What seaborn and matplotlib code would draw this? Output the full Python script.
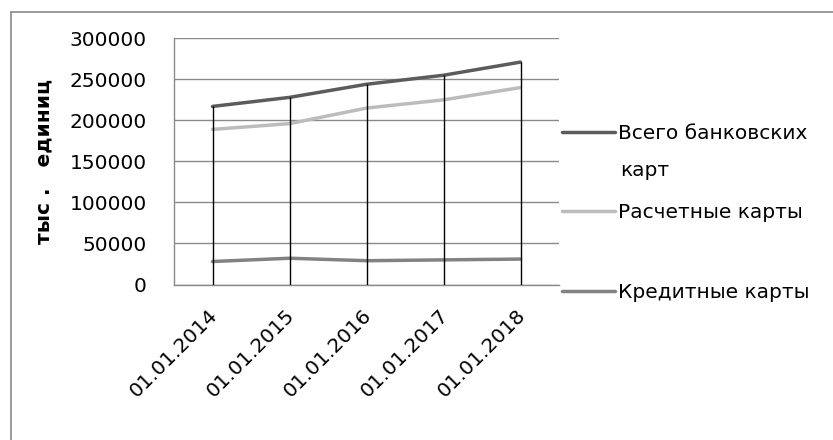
import numpy as np
import pandas as pd
import matplotlib
matplotlib.use("Agg")
import matplotlib.pyplot as plt
import matplotlib.transforms as mtransforms
from matplotlib.lines import Line2D
import seaborn as sns

# Bank cards in circulation, thousand units
dates = ["01.01.2014", "01.01.2015", "01.01.2016", "01.01.2017", "01.01.2018"]
total_cards = [217000, 228000, 244000, 255000, 271000]
debit_cards = [189000, 196000, 215000, 225000, 240000]
credit_cards = [28000, 32000, 29000, 30000, 31000]
series_names = ["Всего банковских карт", "Расчетные карты", "Кредитные карты"]
y_ticks = [0, 50000, 100000, 150000, 200000, 250000, 300000]
y_label = "тыс .   единиц"

colors = ["#5c5c5c", "#bcbcbc", "#828282"]
grid_gray = "#8a8a8a"

sns.set_theme(style="white")
plt.rcParams["font.family"] = ["DejaVu Sans"]
plt.rcParams["text.color"] = "black"
plt.rcParams["axes.labelcolor"] = "black"
plt.rcParams["xtick.color"] = "black"
plt.rcParams["ytick.color"] = "black"

pos = np.arange(len(dates))
df = pd.DataFrame({
    "pos": np.tile(pos, 3),
    "value": total_cards + debit_cards + credit_cards,
    "series": np.repeat(series_names, len(dates)),
})

fig = plt.figure(figsize=(8.33, 4.40), dpi=100)
ax = fig.add_axes([174 / 833, 1 - 284.5 / 440, (559 - 174) / 833, (284.5 - 38.3) / 440])

sns.lineplot(data=df, x="pos", y="value", hue="series", hue_order=series_names,
             palette=colors, linewidth=2.5, legend=False, ax=ax, zorder=3)

# drop lines from the highest series down to the axis
tops = [max(v) for v in zip(total_cards, debit_cards, credit_cards)]
ax.vlines(pos, 0, tops, colors="black", linewidth=1.0, zorder=4)

ax.set_xlim(-0.5, len(dates) - 0.5)
ax.set_ylim(0, 300000)
ax.set_yticks(y_ticks)
ax.set_yticklabels([str(t) for t in y_ticks], fontsize=14.5)
ax.yaxis.grid(True, color=grid_gray, linewidth=1.0)
ax.xaxis.grid(False)
ax.set_axisbelow(True)
for side in ["top", "right"]:
    ax.spines[side].set_visible(False)
for side in ["left", "bottom"]:
    ax.spines[side].set_color(grid_gray)
    ax.spines[side].set_linewidth(1.0)
ax.tick_params(axis="y", length=6.5, width=1.0, color=grid_gray, labelcolor="black",
               direction="out", pad=13)
ax.tick_params(axis="x", length=0, pad=15, labelcolor="black")

ax.set_xticks(pos)
ax.set_xticklabels(dates, rotation=45, ha="right", rotation_mode="anchor", fontsize=14.5)
shift = mtransforms.ScaledTranslation(-5 / 100, 0, fig.dpi_scale_trans)
for lab in ax.get_xticklabels():
    lab.set_transform(lab.get_transform() + shift)

ax.set_xlabel("")
ax.set_ylabel(y_label, fontsize=14.5, fontweight="bold", labelpad=12, color="black")

# legend
handles = [Line2D([0], [0], color=c, linewidth=2.5) for c in colors]
labels = ["Всего банковских", "Расчетные карты", "Кредитные карты"]
fig.legend(handles, labels, loc="upper left", bbox_to_anchor=(562 / 833, 1 - 124 / 440),
           frameon=False, fontsize=14.5, handlelength=2.65, handletextpad=0.15,
           labelspacing=3.0, borderpad=0, borderaxespad=0, labelcolor="black")
fig.text(620 / 833, 1 - 170 / 440, "карт", fontsize=14.5, va="center", ha="left", color="black")

# outer chart frame
fig.add_artist(Line2D([11 / 833, 1], [1 - 12 / 440, 1 - 12 / 440], color=grid_gray, linewidth=1.2))
fig.add_artist(Line2D([11 / 833, 11 / 833], [0, 1 - 12 / 440], color=grid_gray, linewidth=1.2))

fig.savefig("out.png", dpi=100)
